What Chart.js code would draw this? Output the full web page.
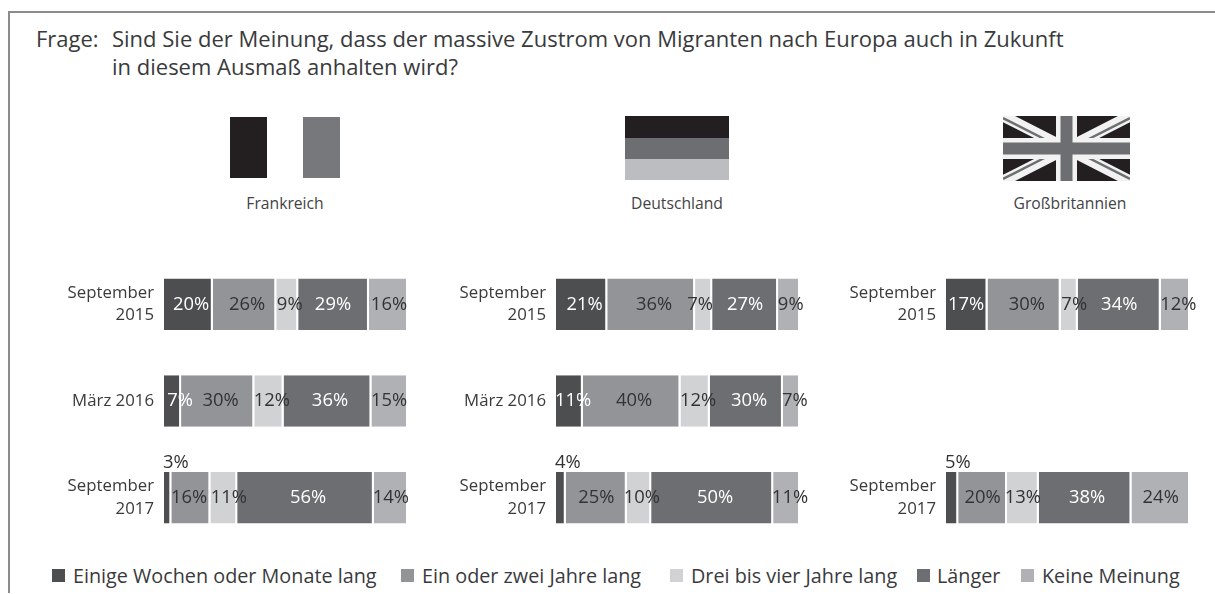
<!DOCTYPE html>
<html lang="de"><head><meta charset="utf-8">
<script src="https://cdn.jsdelivr.net/npm/chart.js@4/dist/chart.umd.min.js"></script>
<style>
html,body{margin:0;padding:0;background:#fff;overflow:hidden}
#page{position:relative;width:1215px;height:594px;font-family:"Open Sans",sans-serif;color:#3a3a3c;overflow:hidden}
#frame{position:absolute;left:8px;top:11px;width:1300px;height:582px;border-left:2px solid #8a8b8d;border-top:2px solid #8a8b8d;box-sizing:border-box}
.t{position:absolute;white-space:nowrap}
.q{font-size:22px;line-height:28px}
.c{font-size:15.7px;transform:translateX(-50%);color:#434345}
.f{position:absolute}
.chart{position:absolute;top:256px;height:290px}
.sw{position:absolute;top:569px;width:13px;height:13px}
.lg{position:absolute;top:562px;font-size:19.8px;line-height:28px;white-space:nowrap}
</style></head><body>
<div id="page">
<div id="frame"></div>
<div class="t q" style="left:36px;top:24px">Frage:</div>
<div class="t q" style="left:112px;top:24px">Sind Sie der Meinung, dass der massive Zustrom von Migranten nach Europa auch in Zukunft<br>in diesem Ausmaß anhalten wird?</div>

<div class="f" style="left:230px;top:117px;width:37px;height:61px;background:#231f20"></div>
<div class="f" style="left:303px;top:117px;width:37px;height:61px;background:#77787b"></div>

<div class="f" style="left:625px;top:116px;width:104px;height:22px;background:#231f20"></div>
<div class="f" style="left:625px;top:138px;width:104px;height:21px;background:#6d6e71"></div>
<div class="f" style="left:625px;top:159px;width:104px;height:21px;background:#bcbdc0"></div>

<svg class="f" style="left:1003px;top:116px" width="127" height="65" viewBox="0 0 127 65">
<rect width="127" height="65" fill="#231f20"/>
<path d="M0 0L127 65M127 0L0 65" stroke="#f2f2f2" stroke-width="11"/>
<path d="M0 2L55 30M72 35L127 63M127 2L72 30M55 35L0 63" stroke="#6d6e71" stroke-width="2.5"/>
<path d="M63.5 0V65M0 32.5H127" stroke="#f2f2f2" stroke-width="21"/>
<path d="M63.5 0V65M0 32.5H127" stroke="#6d6e71" stroke-width="12"/>
</svg>

<div class="t c" style="left:285px;top:192px">Frankreich</div>
<div class="t c" style="left:677px;top:192px">Deutschland</div>
<div class="t c" style="left:1070px;top:192px">Großbritannien</div>

<div class="chart" style="left:40px;width:388px"><canvas id="c1"></canvas></div>
<div class="chart" style="left:432px;width:388px"><canvas id="c2"></canvas></div>
<div class="chart" style="left:822px;width:388px"><canvas id="c3"></canvas></div>
<div id="legend"></div>
</div>
<script>
const periods = [["September","2015"], "März 2016", ["September","2017"]];
const periodsUK = [["September","2015"], "", ["September","2017"]];
const seriesNames = ["Einige Wochen oder Monate lang","Ein oder zwei Jahre lang","Drei bis vier Jahre lang","Länger","Keine Meinung"];
const seriesColors = ["#4d4e50","#929497","#d1d2d4","#6d6e71","#b0b1b5"];
const labelColors = ["#ffffff","#333335","#333335","#ffffff","#333335"];

const frankreich1 = [20, 7, 3];
const frankreich2 = [26, 30, 16];
const frankreich3 = [9, 12, 11];
const frankreich4 = [29, 36, 56];
const frankreich5 = [16, 15, 14];

const deutschland1 = [21, 11, 4];
const deutschland2 = [36, 40, 25];
const deutschland3 = [7, 12, 10];
const deutschland4 = [27, 30, 50];
const deutschland5 = [9, 7, 11];

const britannien1 = [17, null, 5];
const britannien2 = [30, null, 20];
const britannien3 = [7, null, 13];
const britannien4 = [34, null, 38];
const britannien5 = [12, null, 24];

// layout only: [swatch x, text x] of the legend, and label shifts in px per [series][period]
const legendLayout = [[52,73],[401,422],[670,691],[917,937],[1021,1042]];
const nudgeFR = [[2.6,7.5,0],[2.5,3,-1.8],[2.5,3,5],[-0.6,2.5,2.5],[0.5,-0.7,0]];
const nudgeDE = [[3,3.6,0],[3,2.4,0],[-3.6,3,3],[0,2.7,3],[1.7,3.5,3.4]];
const nudgeUK = [[-0.7,0,0],[2.7,0,0],[5,0,0],[0,0,2],[3,0,0]];

const legendEl = document.getElementById('legend');
seriesNames.forEach((n,i)=>{
  const s=document.createElement('div');s.className='sw';s.style.left=legendLayout[i][0]+'px';s.style.background=seriesColors[i];legendEl.appendChild(s);
  const t=document.createElement('div');t.className='lg';t.style.left=legendLayout[i][1]+'px';t.textContent=n;legendEl.appendChild(t);
});

const valueLabels = {
  id:'valueLabels',
  afterDatasetsDraw(chart,args,opts){
    const {ctx}=chart;
    ctx.save();
    ctx.font='18.4px "Open Sans", sans-serif';
    ctx.textBaseline='middle';
    chart.data.datasets.forEach((ds,di)=>{
      const meta=chart.getDatasetMeta(di);
      meta.data.forEach((bar,i)=>{
        const v=ds.data[i];
        if(v==null) return;
        const txt=v+'%';
        if(v<=5){ // tiny first segment: label sits above the bar
          ctx.fillStyle='#333335';ctx.textAlign='left';
          ctx.fillText(txt,bar.base-1,bar.y-35);
          return;
        }
        ctx.textAlign='center';
        ctx.fillStyle=labelColors[di];
        ctx.fillText(txt,(bar.base+bar.x)/2+opts.nudge[di][i],bar.y);
      });
    });
    ctx.restore();
  }
};

function draw(id,labels,rows,nudge){
  new Chart(document.getElementById(id),{
    type:'bar',
    data:{labels,datasets:rows.map((d,i)=>({
      label:seriesNames[i],data:d,backgroundColor:seriesColors[i],
      borderColor:'#ffffff',borderWidth:{right:2,left:0,top:0,bottom:0},borderSkipped:false,
      categoryPercentage:1,barPercentage:0.533
    }))},
    options:{
      indexAxis:'y',responsive:true,maintainAspectRatio:false,animation:false,
      layout:{padding:{right:20,left:0,top:0,bottom:0}},
      plugins:{legend:{display:false},tooltip:{enabled:false},title:{display:false},valueLabels:{nudge}},
      scales:{
        x:{stacked:true,min:0,max:100,display:false},
        y:{stacked:true,border:{display:false},grid:{display:false,drawTicks:false},
           afterFit(s){s.width=124;s.paddingTop=0;s.paddingBottom=0},
           ticks:{color:'#3a3a3c',padding:10,font:{family:'"Open Sans", sans-serif',size:16.8,lineHeight:1.32},autoSkip:false}}
      }
    },
    plugins:[valueLabels]
  });
}
draw('c1',periods,[frankreich1,frankreich2,frankreich3,frankreich4,frankreich5],nudgeFR);
draw('c2',periods,[deutschland1,deutschland2,deutschland3,deutschland4,deutschland5],nudgeDE);
draw('c3',periodsUK,[britannien1,britannien2,britannien3,britannien4,britannien5],nudgeUK);
</script>
</body></html>
